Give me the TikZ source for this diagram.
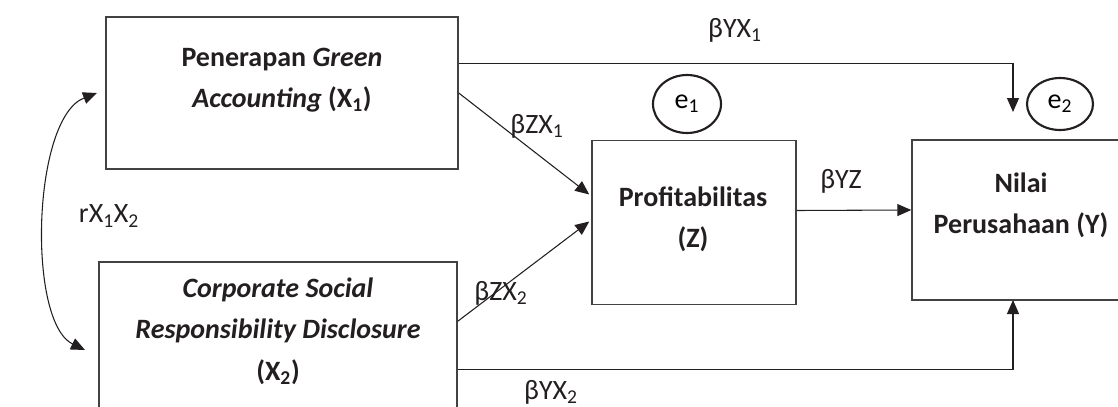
\documentclass[tikz,border=0pt]{standalone}
\usepackage{fontspec}
\setmainfont{Carlito}
\usetikzlibrary{arrows.meta,calc,shapes.geometric}
\definecolor{ink}{HTML}{231F20}
\tikzset{
  box/.style={draw=ink!85, line width=1.1pt, rectangle, inner sep=0pt},
  err/.style={draw=ink, line width=1.6pt, ellipse, inner sep=0pt, font=\fontsize{21}{24}\selectfont},
  bigtxt/.style={align=center, text=ink, font=\fontsize{21}{31}\selectfont\bfseries},
  lbl/.style={text=ink, font=\fontsize{21}{24}\selectfont},
  conn/.style={draw=ink, line width=0.8pt, -{Triangle[length=10.5pt,width=9pt]}},
  dconn/.style={draw=ink, line width=0.8pt, {Triangle[length=10.5pt,width=9pt]}-{Triangle[length=10.5pt,width=9pt]}}
}
\begin{document}
\begin{tikzpicture}[x=0.75pt,y=-0.75pt]
\path[use as bounding box] (0,0) rectangle (1118,407);
\clip (0,0) rectangle (1118,407);
% boxes
\node[box, minimum width=264pt, minimum height=114pt] (X1) at (282,93) {};
\node[box, minimum width=268.5pt, minimum height=133.5pt] (X2) at (278,351) {};
\node[box, minimum width=153pt, minimum height=123pt] (Z) at (694,222.5) {};
\node[box, minimum width=165pt, minimum height=120pt] (Y) at (1022,220) {};
% box texts
\node[bigtxt] (tX1) at (282,80) {Penerapan \textit{Green}\\\textit{Accounting} (X\textsubscript{1})};
\node[bigtxt] (tX2) at (278,331) {\textit{Corporate Social}\\\textit{Responsibility Disclosure}\\(X\textsubscript{2})};
\node[bigtxt] (tZ) at (693,219) {Profitabilitas\\(Z)};
\node[bigtxt] (tY) at (1021,205) {Nilai\\Perusahaan (Y)};
% error terms
\node[err, minimum width=51pt, minimum height=43.5pt] (e1) at (687,104) {e\textsubscript{1}};
\node[err, minimum width=49.5pt, minimum height=39pt] (e2) at (1060,104) {e\textsubscript{2}};
% coordinates
\coordinate (x1top) at ($(X1.north east)+(0,47)$);
\coordinate (ytop) at (1013,112);
\coordinate (ybot) at (1013,300);
\coordinate (x2bot) at ($(X2.north east)+(0,108)$);
\coordinate (x2mid) at ($(X2.north east)+(0,60)$);
\coordinate (zup) at ($(Z.west)+(-2,-28)$);
\coordinate (zdn) at ($(Z.west)+(-2,-1)$);
\coordinate (ztail) at ($(Z.east)+(0,-12)$);
\coordinate (yin) at ($(Y.west)+(0,-10)$);
\coordinate (atop) at (97,93);
\coordinate (abot) at (85,350);
% connectors
\draw[conn] (x1top) -- (x1top -| ytop) -- (ytop);
\draw[conn] (X1.east) -- (zup);
\draw[conn] (x2mid) -- (zdn);
\draw[conn] (ztail) -- (yin);
\draw[conn] (x2bot) -- (x2bot -| ybot) -- (ybot);
\draw[dconn] (atop) .. controls (32,118) and (27,322) .. (abot);
% labels
\node[lbl] (lYX1) at (735,30) {βYX\textsubscript{1}};
\node[lbl] (lZX1) at (537,126) {βZX\textsubscript{1}};
\node[lbl] (lZX2) at (501,293) {βZX\textsubscript{2}};
\node[lbl] (lYZ) at (841,181) {βYZ};
\node[lbl] (lYX2) at (551,392) {βYX\textsubscript{2}};
\node[lbl] (lr) at (109,216) {rX\textsubscript{1}X\textsubscript{2}};
\end{tikzpicture}
\end{document}
